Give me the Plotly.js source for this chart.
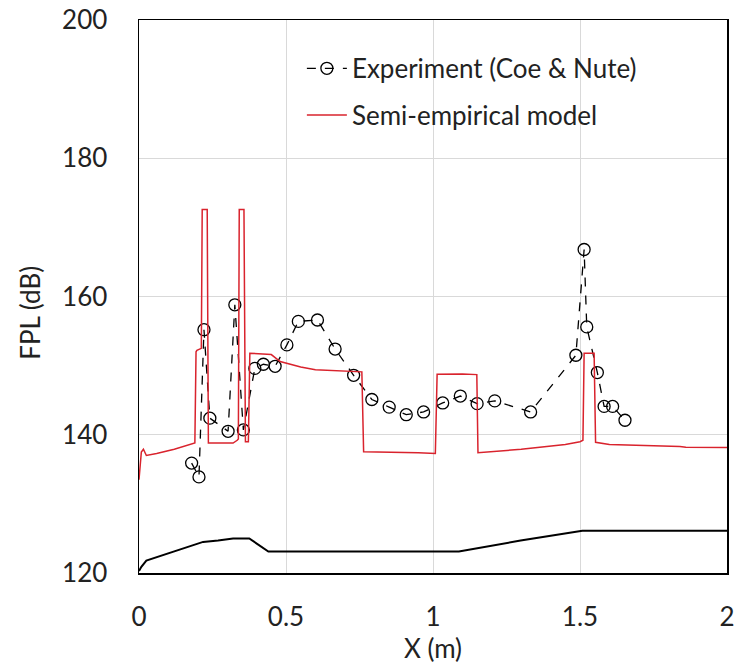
<!DOCTYPE html>
<html>
<head>
<meta charset="utf-8">
<script src="https://cdn.plot.ly/plotly-3.0.1.min.js"></script>
<style>html,body{margin:0;padding:0;background:#fff;}#chart{width:735px;height:670px;}</style>
</head>
<body>
<div id="chart"></div>
<script>
// Experiment (Coe & Nute)
const expX = [0.179,0.204,0.221,0.241,0.303,0.326,0.355,0.394,0.423,0.463,0.503,0.542,0.607,0.667,0.730,0.792,0.851,0.909,0.968,1.033,1.093,1.150,1.210,1.332,1.486,1.514,1.523,1.559,1.582,1.611,1.653];
const expY = [135.9,133.9,155.2,142.4,140.5,158.8,140.7,149.6,150.2,149.9,153.0,156.4,156.6,152.4,148.6,145.1,144.0,142.9,143.3,144.6,145.6,144.5,144.9,143.3,151.5,166.8,155.6,149.0,144.1,144.1,142.1];

// Semi-empirical model
const modelX = [0,0.008,0.015,0.025,0.06,0.12,0.19,0.192,0.194,0.197,0.212,0.215,0.232,0.236,0.320,0.334,0.338,0.341,0.357,0.362,0.372,0.377,0.45,0.48,0.55,0.60,0.70,0.758,0.764,0.85,0.95,1.008,1.014,1.10,1.149,1.153,1.30,1.45,1.50,1.510,1.514,1.548,1.553,1.60,1.70,1.84,1.86,2.0];
const modelY = [133.5,137.5,137.9,137.0,137.3,137.9,138.8,149.5,152.0,152.2,152.5,172.6,172.6,138.8,138.8,139.2,139.4,172.6,172.6,139.0,139.0,151.8,151.6,150.6,149.8,149.4,149.2,149.1,137.55,137.5,137.4,137.3,148.75,148.8,148.7,137.4,137.9,138.6,139.0,139.2,151.8,151.8,138.9,138.6,138.5,138.3,138.2,138.15];

// Lower black profile
const profX = [0,0.008,0.025,0.082,0.139,0.218,0.269,0.320,0.375,0.440,1.088,1.298,1.508,2.0];
const profY = [120.3,120.9,121.8,122.6,123.4,124.5,124.7,125.0,125.0,123.1,123.1,124.7,126.1,126.1];

const xTicks = [0,0.5,1,1.5,2];
const xTickText = ["0","0.5","1","1.5","2"];
const yTicks = [120,140,160,180,200];
const yTitle = 'FPL (dB)';
const xTitle = 'X (m)';

const FONT = "Lato, 'Open Sans', sans-serif";
const TXT = '#222222';

const traces = [
  {x: profX, y: profY, mode: 'lines', line: {color: '#000000', width: 2}, showlegend: false, hoverinfo: 'skip'},
  {x: expX, y: expY, name: 'Experiment (Coe &amp; Nute)', mode: 'lines+markers', legendgroup: 'a',
   line: {color: '#000000', width: 1.3, dash: 'dash'},
   marker: {symbol: 'circle-open', size: 12, color: '#000000', line: {width: 1.3, color: '#000000'}}},
  {x: modelX, y: modelY, name: 'Semi-empirical model', mode: 'lines', legendgroup: 'b',
   line: {color: '#d9232d', width: 1.5}}
];

const layout = {
  width: 735, height: 670,
  margin: {l: 139, r: 8, t: 20, b: 97},
  paper_bgcolor: '#ffffff', plot_bgcolor: '#ffffff',
  font: {family: FONT, size: 26, color: TXT},
  showlegend: true,
  legend: {x: 0.277, y: 0.955, xanchor: 'left', yanchor: 'top', bgcolor: 'rgba(0,0,0,0)',
           font: {family: FONT, size: 26, color: TXT}, tracegroupgap: 10, itemwidth: 40},
  xaxis: {range: [0, 2], tickvals: xTicks, ticktext: xTickText, showgrid: true, gridcolor: '#d9d9d9', gridwidth: 1,
          zeroline: false, showline: true, linecolor: '#000000', linewidth: 1.5, mirror: true, ticks: '',
          ticklabelstandoff: 20, tickfont: {family: FONT, size: 26, color: TXT},
          title: {text: xTitle, font: {family: FONT, size: 26, color: TXT}, standoff: 8}},
  yaxis: {range: [120, 200], tickvals: yTicks, showgrid: true, gridcolor: '#d9d9d9', gridwidth: 1,
          zeroline: false, showline: true, linecolor: '#000000', linewidth: 1.5, mirror: true, ticks: '',
          ticklabelstandoff: 25, tickfont: {family: FONT, size: 26, color: TXT}},
  annotations: [{text: yTitle, xref: 'paper', yref: 'paper', x: -0.186, y: 0.47, xanchor: 'center', yanchor: 'middle',
                 textangle: -90, showarrow: false, font: {family: FONT, size: 26, color: TXT}}]
};

Plotly.newPlot('chart', traces, layout, {displayModeBar: false, staticPlot: true});
</script>
</body>
</html>
